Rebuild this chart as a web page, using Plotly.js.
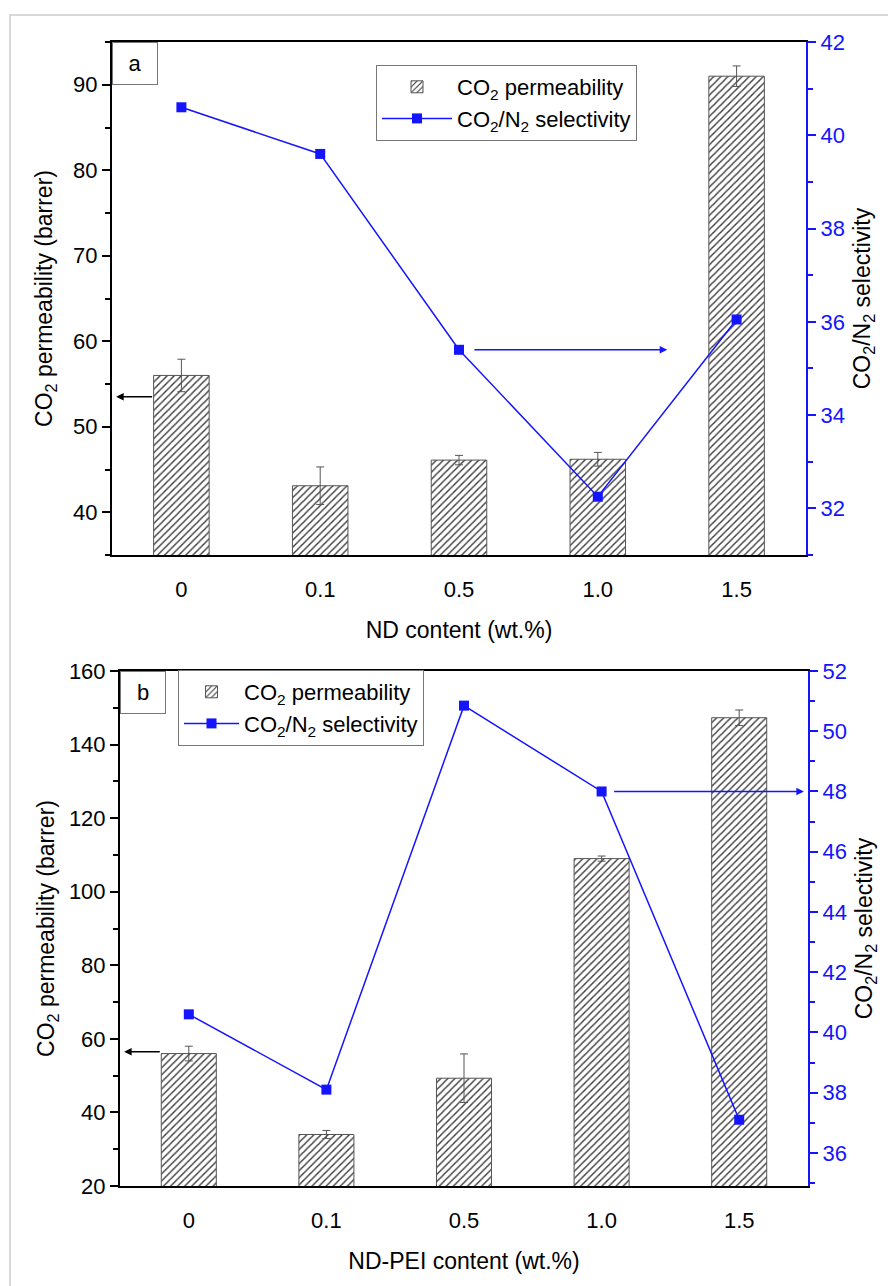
<!DOCTYPE html>
<html>
<head>
<meta charset="utf-8">
<script src="https://cdn.plot.ly/plotly-3.0.1.min.js"></script>
<style>html,body{margin:0;padding:0;background:#fff;}#chart{width:888px;height:1286px;}</style>
</head>
<body>
<div id="chart"></div>
<script>
// ---- Data ----
const catsA = ["0", "0.1", "0.5", "1.0", "1.5"];
const permA = [56, 43.1, 46.1, 46.2, 91];
const permErrA = [1.9, 2.2, 0.55, 0.8, 1.2];
const selA = [40.6, 39.6, 35.4, 32.25, 36.05];

const catsB = ["0", "0.1", "0.5", "1.0", "1.5"];
const permB = [56, 34, 49.3, 109, 147.3];
const permErrB = [2, 1.1, 6.6, 0.7, 2.1];
const selB = [40.6, 38.1, 50.85, 48.0, 37.1];

const FONT = "Liberation Sans, Arial, sans-serif";
const BLUE = "#1414ff";
const HATCH = {shape: "/", fgcolor: "#3a3a3a", bgcolor: "#ffffff", size: 5, solidity: 0.28};

function barTrace(x, y, err, xa, ya, legend, showleg) {
  return {
    type: "bar", x: x, y: y, xaxis: xa, yaxis: ya, width: 0.4,
    name: "CO<sub>2</sub> permeability", legend: legend, showlegend: showleg,
    marker: {color: "#ffffff", pattern: Object.assign({}, HATCH), line: {color: "#555555", width: 1}},
    error_y: {type: "data", array: err, visible: true, color: "#555555", thickness: 1, width: 4}
  };
}
function selTrace(x, y, xa, ya, legend) {
  return {
    type: "scatter", mode: "lines+markers", x: x, y: y, xaxis: xa, yaxis: ya,
    name: "CO<sub>2</sub>/N<sub>2</sub> selectivity", legend: legend,
    line: {color: BLUE, width: 1.5},
    marker: {symbol: "square", size: 10, color: BLUE}
  };
}

const traces = [
  barTrace(catsA, permA, permErrA, "x", "y", "legend", true),
  selTrace(catsA, selA, "x", "y2", "legend"),
  barTrace(catsB, permB, permErrB, "x2", "y3", "legend2", true),
  selTrace(catsB, selB, "x2", "y4", "legend2")
];

function tickF(color) { return {family: FONT, size: 22, color: color || "#000000"}; }
function titleF() { return {family: FONT, size: 23, color: "#000000"}; }

function xAxis(domain, anchor, title) {
  return {
    domain: domain, anchor: anchor, type: "category", range: [-0.5, 4.5],
    showline: true, linecolor: "#000", linewidth: 2, mirror: true,
    ticks: "", ticklabelstandoff: 14, tickfont: tickF(),
    title: {text: title, font: titleF(), standoff: 20},
    showgrid: false, zeroline: false, fixedrange: true
  };
}
function yLeft(domain, anchor, range, dtick, minor, standoff) {
  return {
    domain: domain, anchor: anchor, range: range, dtick: dtick,
    showline: true, linecolor: "#000", linewidth: 2,
    ticks: "outside", ticklen: 8, tickwidth: 2, tickcolor: "#000",
    minor: {ticks: "outside", ticklen: 5, tickwidth: 2, tickcolor: "#000", dtick: minor, showgrid: false},
    tickfont: tickF(), showgrid: false, zeroline: false,
    title: {text: "CO<sub>2</sub> permeability (barrer)", font: titleF(), standoff: standoff}
  };
}
function yRight(overlay, anchor, range, dtick, minor, standoff) {
  return {
    overlaying: overlay, anchor: anchor, side: "right", range: range, dtick: dtick,
    showline: true, linecolor: BLUE, linewidth: 2,
    ticks: "outside", ticklen: 8, tickwidth: 2, tickcolor: BLUE,
    minor: {ticks: "outside", ticklen: 5, tickwidth: 2, tickcolor: BLUE, dtick: minor, showgrid: false},
    tickfont: tickF(BLUE), showgrid: false, zeroline: false,
    title: {text: "CO<sub>2</sub>/N<sub>2</sub> selectivity", font: titleF(), standoff: standoff}
  };
}

const domA = [1 - 555/1286, 1 - 42/1286];
const domB = [1 - 1186/1286, 1 - 671/1286];

const layout = {
  width: 888, height: 1286,
  margin: {l: 0, r: 0, t: 0, b: 0},
  paper_bgcolor: "#fff", plot_bgcolor: "#fff",
  font: {family: FONT, size: 22, color: "#000000"},
  barmode: "overlay",
  xaxis: xAxis([112/888, 806/888], "y", "ND content (wt.%)"),
  yaxis: yLeft(domA, "x", [35, 95], 10, 5, 14),
  yaxis2: yRight("y", "x", [31, 42], 2, 1, 10),
  xaxis2: xAxis([120/888, 808/888], "y3", "ND-PEI content (wt.%)"),
  yaxis3: yLeft(domB, "x2", [20, 160], 20, 10, 8),
  yaxis4: yRight("y3", "x2", [34.9, 52], 2, 1, 10),
  legend: {
    x: 376/888, y: 1 - 65/1286, xanchor: "left", yanchor: "top",
    bordercolor: "#777", borderwidth: 1, bgcolor: "#fff",
    font: {family: FONT, size: 22, color: "#000"}, tracegroupgap: 0, itemwidth: 70
  },
  legend2: {
    x: 178/888, y: 1 - 670/1286, xanchor: "left", yanchor: "top",
    bordercolor: "#777", borderwidth: 1, bgcolor: "#fff",
    font: {family: FONT, size: 22, color: "#000"}, tracegroupgap: 0, itemwidth: 55
  },
  shapes: [
    {type: "rect", xref: "paper", yref: "paper", x0: 10/888, x1: 1.02, y0: -0.02, y1: 1 - 15/1286,
     line: {color: "#cccccc", width: 1.5}, fillcolor: "rgba(0,0,0,0)", layer: "below"}
  ],
  annotations: [
    {xref: "x domain", yref: "y domain", x: 0, y: 1, xanchor: "left", yanchor: "top",
     text: "a", showarrow: false, font: {family: FONT, size: 22, color: "#000"},
     bordercolor: "#777", borderwidth: 1, bgcolor: "#fff", width: 40, height: 37, borderpad: 2},
    {xref: "x2 domain", yref: "y3 domain", x: 0, y: 1, xanchor: "left", yanchor: "top",
     text: "b", showarrow: false, font: {family: FONT, size: 22, color: "#000"},
     bordercolor: "#777", borderwidth: 1, bgcolor: "#fff", width: 40, height: 37, borderpad: 2},
    // panel a arrows
    {xref: "x", yref: "y", axref: "x", ayref: "y", x: -0.47, y: 53.5, ax: -0.2, ay: 53.5,
     text: "", showarrow: true, arrowhead: 2, arrowsize: 1, arrowwidth: 1.5, arrowcolor: "#000"},
    {xref: "x", yref: "y2", axref: "x", ayref: "y2", x: 3.5, y: 35.4, ax: 2.1, ay: 35.4,
     text: "", showarrow: true, arrowhead: 2, arrowsize: 1, arrowwidth: 1.5, arrowcolor: BLUE},
    // panel b arrows
    {xref: "x2", yref: "y3", axref: "x2", ayref: "y3", x: -0.47, y: 56.5, ax: -0.2, ay: 56.5,
     text: "", showarrow: true, arrowhead: 2, arrowsize: 1, arrowwidth: 1.5, arrowcolor: "#000"},
    {xref: "x2", yref: "y4", axref: "x2", ayref: "y4", x: 4.47, y: 48, ax: 3.08, ay: 48,
     text: "", showarrow: true, arrowhead: 2, arrowsize: 1, arrowwidth: 1.5, arrowcolor: BLUE}
  ]
};

Plotly.newPlot("chart", traces, layout, {staticPlot: true, displayModeBar: false});
</script>
</body>
</html>
